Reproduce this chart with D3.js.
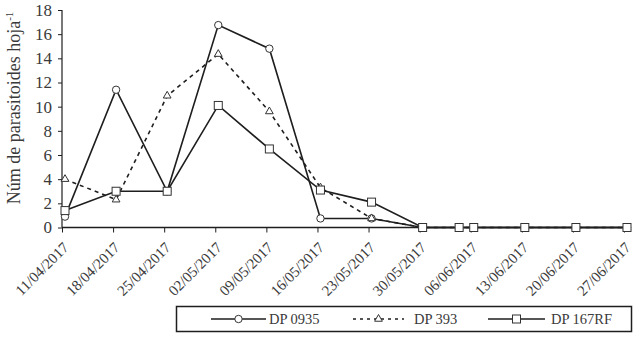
<!DOCTYPE html>
<html><head><meta charset="utf-8">
<script src="https://cdn.jsdelivr.net/npm/d3@7"></script>
<style>
body{margin:0;background:#fff;}
svg text{font-family:"Liberation Serif","Times New Roman",serif;}
</style></head><body>
<svg id="c" width="636" height="337"></svg>
<script>
const dates = ["2017-04-11","2017-04-18","2017-04-25","2017-05-02","2017-05-09","2017-05-16","2017-05-23","2017-05-30","2017-06-04","2017-06-06","2017-06-13","2017-06-20","2017-06-27"];
const tickDates = ["2017-04-11","2017-04-18","2017-04-25","2017-05-02","2017-05-09","2017-05-16","2017-05-23","2017-05-30","2017-06-06","2017-06-13","2017-06-20","2017-06-27"];
const dp0935 = [0.9,11.4,3.0,16.75,14.8,0.75,0.75,0,0,0,0,0,0];
const dp393 = [4.0,2.3,10.9,14.35,9.6,3.3,0.75,0,0,0,0,0,0];
const dp167rf = [1.4,3.0,3.0,10.1,6.5,3.1,2.1,0,0,0,0,0,0];
const seriesNames = ["DP 0935","DP 393","DP 167RF"];
const yTicks = [0,2,4,6,8,10,12,14,16,18];

const FONT = "Liberation Serif, Times New Roman, serif";
const parse = d3.timeParse("%Y-%m-%d");
const fmt = d3.timeFormat("%d/%m/%Y");
const svg = d3.select("#c");
const ink = "#1e1e1e", txt = "#3a3a3a";

const x = d3.scaleTime().domain([parse(tickDates[0]), parse(tickDates[tickDates.length-1])]).range([62, 624]);
const y = d3.scaleLinear().domain([0,18]).range([227.5, 10]);
const off = 3;

// y axis
const ya = svg.append("g").attr("transform","translate(62,0)")
  .call(d3.axisLeft(y).tickValues(yTicks).tickSize(4).tickPadding(6).tickFormat(d3.format("d")));
ya.attr("font-family",FONT);
ya.select(".domain").attr("stroke",ink).attr("stroke-width",1.2).attr("d","M0,10V227.5");
ya.selectAll(".tick line").attr("stroke",ink);
ya.selectAll("text").attr("fill",txt).attr("font-size",17).attr("font-family",FONT);

// x axis
const xa = svg.append("g").attr("transform","translate(0,227.5)")
  .call(d3.axisBottom(x).tickValues(tickDates.map(parse)).tickSize(5).tickFormat(fmt));
xa.attr("font-family",FONT);
xa.select(".domain").attr("stroke",ink).attr("stroke-width",1.5).attr("d","M62,0H630");
xa.selectAll(".tick line").attr("stroke",ink);
xa.selectAll("text").attr("fill",txt).attr("font-size",15).attr("font-family",FONT)
  .attr("text-anchor","end").attr("dy","0").attr("dx","0").attr("y",0)
  .attr("transform","translate(7,21) rotate(-45)");

// y title
const yt = svg.append("text").attr("transform","translate(20,108) rotate(-90)")
  .attr("text-anchor","middle").attr("fill",txt).attr("font-size",18).attr("font-family",FONT);
yt.append("tspan").text("Núm de parasitoides hoja");
yt.append("tspan").text("-1").attr("dy","-7").attr("font-size",11);

const allSeries = [dp0935, dp393, dp167rf];
const markers = ["circle","triangle","square"];
const dashes = [null,"4,4",null];
const line = d3.line().x((d,i)=>x(parse(dates[i]))+off).y(d=>y(d));

function marker(g, type, cx, cy){
  if(type==="circle") g.append("circle").attr("cx",cx).attr("cy",cy).attr("r",3.7);
  else if(type==="square") g.append("rect").attr("x",cx-4).attr("y",cy-4).attr("width",8).attr("height",8);
  else g.append("path").attr("d",d3.symbol(d3.symbolTriangle,26)()).attr("transform",`translate(${cx},${cy})`);
}

allSeries.forEach((vals,k)=>{
  svg.append("path").datum(vals).attr("d",line).attr("fill","none").attr("stroke",ink)
    .attr("stroke-width",1.6).attr("stroke-dasharray",dashes[k]);
});
allSeries.forEach((vals,k)=>{
  const g = svg.append("g").attr("fill","#fff").attr("stroke","#333").attr("stroke-width",1);
  vals.forEach((v,i)=>marker(g, markers[k], x(parse(dates[i]))+off, y(v)));
});

// legend
const lg = svg.append("g");
lg.append("rect").attr("x",176.5).attr("y",306.5).attr("width",455).attr("height",25)
  .attr("fill","none").attr("stroke",ink).attr("stroke-width",1.5);
const legItems = [{x1:211,x2:266,tx:269},{x1:353,x2:404,tx:414},{x1:488,x2:545,tx:551}];
legItems.forEach((it,k)=>{
  lg.append("line").attr("x1",it.x1).attr("x2",it.x2).attr("y1",319).attr("y2",319)
    .attr("stroke",ink).attr("stroke-width",1.3).attr("stroke-dasharray",dashes[k]?"3,4":null);
  const g = lg.append("g").attr("fill","#fff").attr("stroke","#333").attr("stroke-width",1);
  marker(g, markers[k], (it.x1+it.x2)/2, 319);
  lg.append("text").attr("x",it.tx).attr("y",319).attr("dy","0.35em").attr("fill",txt)
    .attr("font-size",14.5).attr("font-family",FONT).text(seriesNames[k]);
});
</script></body></html>
